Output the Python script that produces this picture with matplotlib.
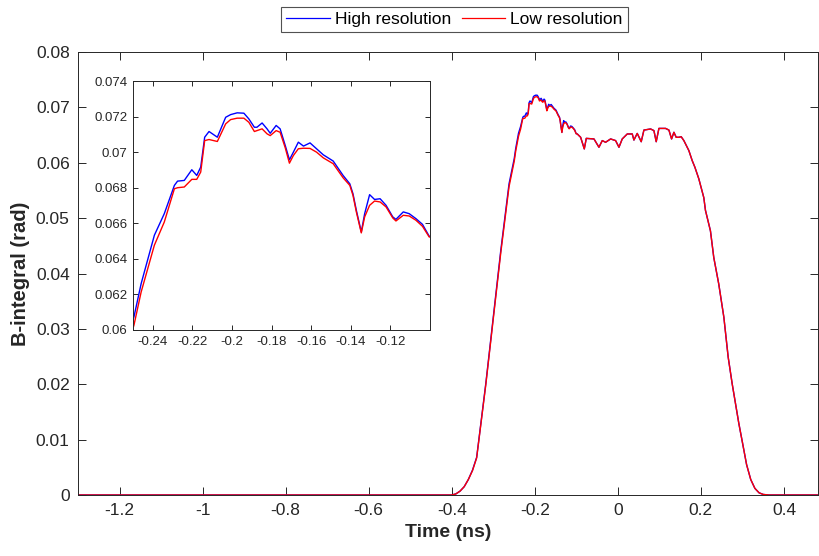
import numpy as np
import matplotlib
matplotlib.use("Agg")
import matplotlib.pyplot as plt
from matplotlib.ticker import FuncFormatter, FixedLocator

plt.rcParams['font.family'] = ['Liberation Sans', 'DejaVu Sans']

# ---------------- data ----------------
time_ns = [-1.3, -0.40, -0.39, -0.38, -0.37, -0.36, -0.35, -0.34, -0.318, -0.300, -0.282, -0.262,
           -0.2495, -0.2459, -0.2392, -0.2342, -0.2291, -0.2275, -0.2241, -0.2203, -0.2178, -0.2158,
           -0.2138, -0.2116, -0.2074, -0.2032, -0.2007, -0.1974, -0.1940, -0.1915, -0.1887, -0.1874,
           -0.1848, -0.1823, -0.1807, -0.1777, -0.1757, -0.1731, -0.1710, -0.1690, -0.1665, -0.1639,
           -0.1606, -0.1573, -0.1539, -0.1489, -0.1439, -0.1405, -0.1389, -0.1372, -0.1347, -0.1330,
           -0.1305, -0.1280, -0.1252, -0.1222, -0.1188, -0.1172, -0.1135, -0.1105, -0.1071, -0.1038,
           -0.1004,
           -0.0977, -0.0896, -0.0808, -0.076, -0.0575, -0.0455, -0.0375, -0.0295, -0.0174, -0.0054,
           0.0027, 0.0106, 0.0227, 0.0347, 0.0387, 0.0467, 0.0563, 0.0628, 0.0789, 0.0869,
           0.0924, 0.0989, 0.115, 0.123, 0.1294, 0.135, 0.1405, 0.147, 0.1526, 0.159,
           0.171, 0.179, 0.1855, 0.195, 0.207, 0.211, 0.223, 0.231, 0.243, 0.2553,
           0.2657, 0.2753, 0.2914, 0.300, 0.310, 0.320, 0.330, 0.340, 0.350, 0.3635, 0.482]

b_high = [0, 0, 0.0002, 0.0007, 0.0015, 0.0028, 0.0045, 0.0068, 0.0201, 0.0321, 0.0441, 0.0562,
          0.06075, 0.0626, 0.06533, 0.06654, 0.06813, 0.06837, 0.06841, 0.06901, 0.06869, 0.06916,
          0.07084, 0.07116, 0.07084, 0.07196, 0.07211, 0.07221, 0.07219, 0.07187, 0.07140, 0.07140,
          0.07164, 0.07131, 0.07106, 0.07150, 0.07131, 0.07037, 0.06957, 0.07000, 0.07056, 0.07034,
          0.07052, 0.07019, 0.06985, 0.06950, 0.06869, 0.06822, 0.06766, 0.06673, 0.06551, 0.06654,
          0.06761, 0.06734, 0.06738, 0.06701, 0.06636, 0.06622, 0.06664, 0.06654, 0.06626, 0.06594,
          0.06527,
          0.0652, 0.0646, 0.0625, 0.0644, 0.0643, 0.0628, 0.0640, 0.0637, 0.0643, 0.0640,
          0.0628, 0.0643, 0.0652, 0.0652, 0.0641, 0.0653, 0.0638, 0.0659, 0.0661, 0.0658,
          0.0638, 0.0662, 0.0662, 0.0659, 0.0643, 0.0655, 0.0646, 0.0646, 0.0647, 0.0640,
          0.0622, 0.0604, 0.0592, 0.0571, 0.0537, 0.0514, 0.0477, 0.0429, 0.0381, 0.0321,
          0.0249, 0.0201, 0.0129, 0.0095, 0.0055, 0.0028, 0.0012, 0.0004, 0.0001, 0, 0]

b_low = [0, 0, 0.0002, 0.0007, 0.0015, 0.0028, 0.0044, 0.0067, 0.0199, 0.0318, 0.0437, 0.0557,
         0.06028, 0.06213, 0.06477, 0.06607, 0.06794, 0.06800, 0.06804, 0.06847, 0.06847, 0.06888,
         0.07065, 0.07071, 0.07060, 0.07159, 0.07183, 0.07191, 0.07191, 0.07168, 0.07116, 0.07121,
         0.07131, 0.07103, 0.07093, 0.07121, 0.07112, 0.07024, 0.06938, 0.06981, 0.07019, 0.07022,
         0.07021, 0.07000, 0.06968, 0.06935, 0.06856, 0.06813, 0.06757, 0.06664, 0.06546, 0.06636,
         0.06701, 0.06725, 0.06720, 0.06692, 0.06630, 0.06613, 0.06645, 0.06641, 0.06617, 0.06583,
         0.06523,
         0.0652, 0.0646, 0.0625, 0.0644, 0.0643, 0.0628, 0.0640, 0.0637, 0.0643, 0.0640,
         0.0628, 0.0643, 0.0652, 0.0652, 0.0641, 0.0653, 0.0638, 0.0659, 0.0661, 0.0658,
         0.0638, 0.0662, 0.0662, 0.0659, 0.0643, 0.0655, 0.0646, 0.0646, 0.0647, 0.0640,
         0.0622, 0.0604, 0.0592, 0.0571, 0.0537, 0.0514, 0.0477, 0.0429, 0.0381, 0.0321,
         0.0249, 0.0201, 0.0129, 0.0095, 0.0055, 0.0028, 0.0012, 0.0004, 0.0001, 0, 0]

main_xticks = [-1.2, -1.0, -0.8, -0.6, -0.4, -0.2, 0.0, 0.2, 0.4]
main_yticks = [0, 0.01, 0.02, 0.03, 0.04, 0.05, 0.06, 0.07, 0.08]
inset_xticks = [-0.24, -0.22, -0.20, -0.18, -0.16, -0.14, -0.12]
inset_yticks = [0.060, 0.062, 0.064, 0.066, 0.068, 0.070, 0.072, 0.074]
series_labels = ['High resolution', 'Low resolution']

# ---------------- figure ----------------
W, H = 819, 556
fig = plt.figure(figsize=(W / 100, H / 100), dpi=100)

def frac(x0, y0, x1, y1):
    return [x0 / W, 1 - y1 / H, (x1 - x0) / W, (y1 - y0) / H]

axc = '#262626'
fmt = FuncFormatter(lambda v, p: '%g' % round(v, 6))

ax = fig.add_axes(frac(78, 52, 818, 495))
l1, = ax.plot(time_ns, b_high, color='#0000ff', lw=1.0)
l2, = ax.plot(time_ns, b_low, color='#ff0000', lw=1.0)
ax.set_xlim(-1.3, 0.482)
ax.set_ylim(0, 0.08)
ax.xaxis.set_major_locator(FixedLocator(main_xticks))
ax.yaxis.set_major_locator(FixedLocator(main_yticks))
ax.xaxis.set_major_formatter(fmt)
ax.yaxis.set_major_formatter(fmt)
ax.tick_params(direction='in', top=True, right=True, length=5.5, width=0.7,
               color=axc, labelcolor='#262626', labelsize=12.5, pad=6)
for s in ax.spines.values():
    s.set_color(axc)
    s.set_linewidth(0.7)
ax.set_xlabel('Time (ns)', fontsize=14, fontweight='bold', color='#262626', labelpad=4)
ax.set_ylabel('B-integral (rad)', fontsize=14.5, fontweight='bold', color='#262626', labelpad=4)

# inset
ax2 = fig.add_axes(frac(133, 81, 430, 330))
ax2.plot(time_ns, b_high, color='#0000ff', lw=1.0)
ax2.plot(time_ns, b_low, color='#ff0000', lw=1.0)
ax2.set_xlim(-0.25, -0.10)
ax2.set_ylim(0.06, 0.074)
ax2.xaxis.set_major_locator(FixedLocator(inset_xticks))
ax2.yaxis.set_major_locator(FixedLocator(inset_yticks))
ax2.xaxis.set_major_formatter(fmt)
ax2.yaxis.set_major_formatter(fmt)
ax2.tick_params(direction='in', top=True, right=True, length=3.5, width=0.7,
                color=axc, labelcolor='#262626', labelsize=9.5, pad=4)
for s in ax2.spines.values():
    s.set_color(axc)
    s.set_linewidth(0.7)
ax2.set_facecolor('white')

leg = fig.legend([l1, l2], series_labels, loc='center', ncol=2,
                 bbox_to_anchor=(454.5 / W, 1 - 19.5 / H), fontsize=12.5,
                 frameon=True, fancybox=False, edgecolor='#262626',
                 handlelength=2.5, handletextpad=0.3, columnspacing=0.6,
                 borderpad=0.3, borderaxespad=0)
leg.get_frame().set_linewidth(0.8)
for lh in leg.get_lines():
    lh.set_linewidth(0.9)

fig.savefig('out.png', dpi=100)
